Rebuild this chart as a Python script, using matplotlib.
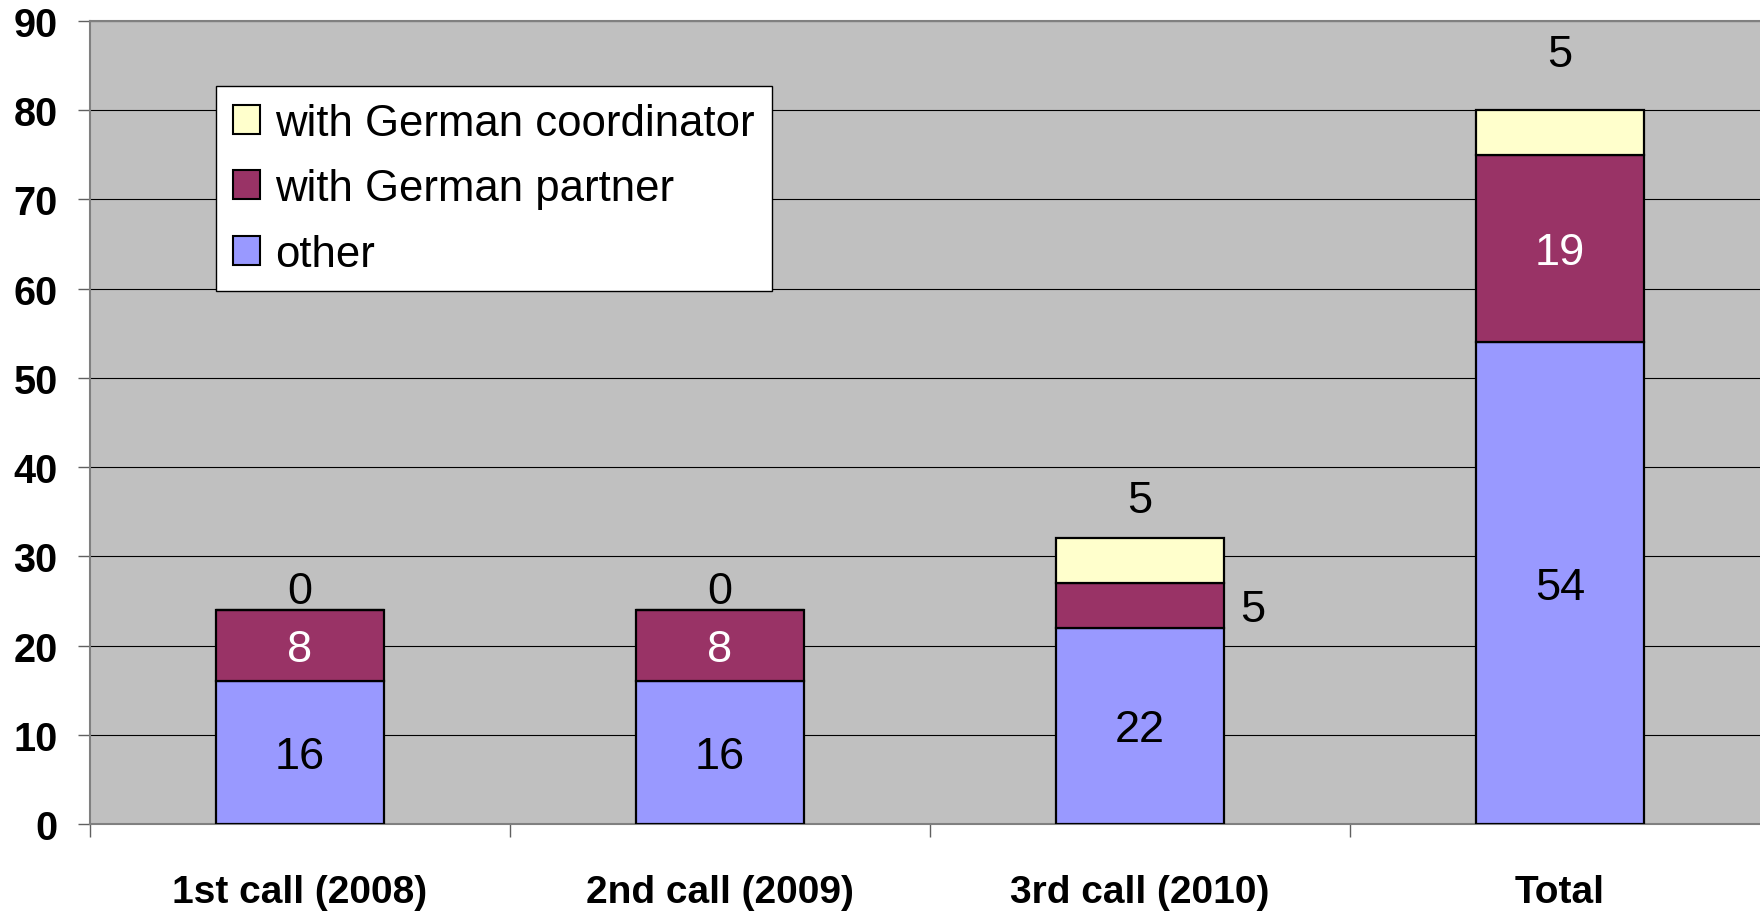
import matplotlib
matplotlib.use("Agg")
import matplotlib.pyplot as plt
import numpy as np

plt.rcParams['font.family'] = ['Liberation Sans', 'DejaVu Sans']

categories = ["1st call (2008)", "2nd call (2009)", "3rd call (2010)", "Total"]
# segment heights as drawn in the picture
other = [16, 16, 22, 54]
partner = [8, 8, 5, 21]
coordinator = [0, 0, 5, 5]
# value labels as printed on the picture
other_labels = ["16", "16", "22", "54"]
partner_labels = ["8", "8", "5", "19"]
coordinator_labels = ["0", "0", "5", "5"]
yticks = [0, 10, 20, 30, 40, 50, 60, 70, 80, 90]

c_other = "#9999FF"
c_partner = "#993366"
c_coord = "#FFFFCC"

fig = plt.figure(figsize=(17.6, 9.12), dpi=100)
ax = fig.add_axes([89.5/1760, (912-825)/912, (1770-89.5)/1760, (825-22)/912])
ax.set_facecolor("#C0C0C0")

x = np.arange(len(categories))
w = 0.4
ekw = dict(edgecolor="black", linewidth=1.6, zorder=3)
b1 = ax.bar(x, other, w, color=c_other, label="other", **ekw)
b2 = ax.bar(x, partner, w, bottom=other, color=c_partner, label="with German partner", **ekw)
bot2 = np.array(other) + np.array(partner)
b3 = ax.bar(x, coordinator, w, bottom=bot2, color=c_coord, label="with German coordinator", **ekw)

ax.set_xlim(-0.5, 3.5)
ax.set_ylim(0, 90)
ax.set_yticks(yticks)
ax.yaxis.grid(True, color="black", linewidth=0.8, zorder=1)
ax.set_axisbelow(True)

ax.set_xticks(x)
ax.set_xticklabels(categories, fontsize=28, fontweight="bold")
ax.set_xticks(np.arange(-0.5, 4.0, 1.0), minor=True)
ax.tick_params(axis="x", which="major", length=0, pad=36)
ax.tick_params(axis="x", which="minor", length=9, width=1, color="#606060")
ax.tick_params(axis="y", length=9, width=1, color="#606060", pad=14, labelsize=28.5)
for lab in ax.get_yticklabels():
    lab.set_fontweight("bold")

for s in ["left", "top", "bottom"]:
    ax.spines[s].set_color("#808080")
    ax.spines[s].set_linewidth(1.5)
ax.spines["right"].set_visible(False)

fs = 32.5
dy = -4
for i in range(len(categories)):
    ax.annotate(other_labels[i], (x[i], other[i]/2), xytext=(0, dy), textcoords="offset pixels",
                ha="center", va="center", fontsize=fs, color="black", zorder=5)
    if i == 2:
        ax.annotate(partner_labels[i], (x[i] + w/2, other[i] + partner[i]/2), xytext=(29, dy),
                    textcoords="offset pixels", ha="center", va="center", fontsize=fs, color="black", zorder=5)
    else:
        ax.annotate(partner_labels[i], (x[i], other[i] + partner[i]/2), xytext=(0, dy),
                    textcoords="offset pixels", ha="center", va="center", fontsize=fs, color="white", zorder=5)
    offs = [18, 18, 38, 56][i]
    ax.annotate(coordinator_labels[i], (x[i], bot2[i] + coordinator[i]), xytext=(0, offs),
                textcoords="offset pixels", ha="center", va="center", fontsize=fs, color="black", zorder=5)

handles = [b3, b2, b1]
leg = ax.legend(handles, [h.get_label() for h in handles], loc="upper left",
                bbox_to_anchor=(0.0753, 0.919), borderaxespad=0, fontsize=31.5,
                frameon=True, fancybox=False, edgecolor="black", framealpha=1,
                handlelength=0.62, handleheight=0.64, handletextpad=0.36,
                borderpad=0.38, labelspacing=0.56)
leg.get_frame().set_linewidth(1.0)
for p in leg.get_patches():
    p.set_linewidth(1.5)

fig.savefig("out.png", dpi=100)
